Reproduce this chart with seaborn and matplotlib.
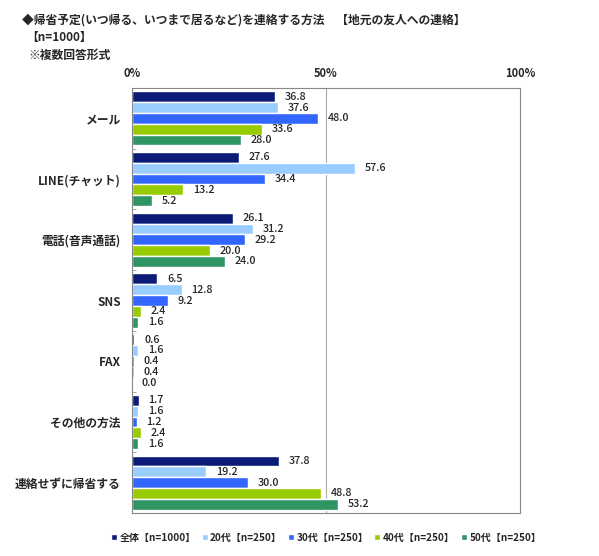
import matplotlib
matplotlib.use("Agg")
import matplotlib.pyplot as plt
import seaborn as sns
import pandas as pd
import numpy as np

categories = ["メール", "LINE(チャット)", "電話(音声通話)", "SNS", "FAX", "その他の方法", "連絡せずに帰省する"]
series = ["全体【n=1000】", "20代【n=250】", "30代【n=250】", "40代【n=250】", "50代【n=250】"]
v_all = [36.8, 27.6, 26.1, 6.5, 0.6, 1.7, 37.8]
v_20 = [37.6, 57.6, 31.2, 12.8, 1.6, 1.6, 19.2]
v_30 = [48.0, 34.4, 29.2, 9.2, 0.4, 1.2, 30.0]
v_40 = [33.6, 13.2, 20.0, 2.4, 0.4, 2.4, 48.8]
v_50 = [28.0, 5.2, 24.0, 1.6, 0.0, 1.6, 53.2]
colors = ["#0c1a78", "#99ccff", "#3366ff", "#99cc00", "#2e9462"]
xticks = [0, 50, 100]
xticklabels = ["0%", "50%", "100%"]

rows = []
for s, vals in zip(series, [v_all, v_20, v_30, v_40, v_50]):
    for c, v in zip(categories, vals):
        rows.append({"cat": c, "series": s, "val": v})
df = pd.DataFrame(rows)

sns.set_theme(style="white")
plt.rcParams['font.family'] = ['Noto Sans CJK JP', 'DejaVu Sans']

fig = plt.figure(figsize=(5.99, 5.56), dpi=100)
ax = fig.add_axes([132/599, 1-513/556, 388/599, 425/556])
sns.barplot(data=df, y="cat", x="val", hue="series", orient="h",
            palette=colors, order=categories, hue_order=series,
            width=0.89, ax=ax, legend=True, saturation=1)

ax.set_xlim(0, 100)
ax.set_ylim(len(categories) - 0.5, -0.5)
ax.set_xticks(xticks)
ax.set_xticklabels(xticklabels, fontsize=8)
ax.xaxis.tick_top()
ax.tick_params(axis='x', length=0, pad=6)
ax.tick_params(axis='y', which='major', length=0, pad=8)
ax.set_yticks(np.arange(0.5, len(categories) - 1, 1.0), minor=True)
ax.tick_params(axis='y', which='minor', direction='in', length=3, width=0.6, color='#999999', left=True)
for lab in ax.get_yticklabels():
    lab.set_fontsize(8.5)
    lab.set_fontweight('bold')
for lab in ax.get_xticklabels():
    lab.set_fontweight('bold')
ax.axvline(50, color="#aaaaaa", lw=0.8, zorder=0)
ax.set_xlabel("")
ax.set_ylabel("")
for sp in ax.spines.values():
    sp.set_color("#888888")
    sp.set_linewidth(0.8)

for cont in ax.containers:
    ax.bar_label(cont, fmt="%.1f", padding=7, fontsize=7.8, fontweight='medium')

ax.legend(loc="upper center", bbox_to_anchor=(0.5, -0.025), ncol=5, frameon=False,
          handlelength=0.6, handleheight=0.6, handletextpad=0.25,
          columnspacing=0.6, prop={'weight': 'bold', 'size': 7.2})

fig.text(22/599, 1-20/556, "◆帰省予定(いつ帰る、いつまで居るなど)を連絡する方法　【地元の友人への連絡】",
         fontsize=8.5, fontweight='bold', va='center', ha='left')
fig.text(26/599, 1-37/556, "【n=1000】", fontsize=8.5, fontweight='bold', va='center', ha='left')
fig.text(28/599, 1-55/556, "※複数回答形式", fontsize=8.5, fontweight='bold', va='center', ha='left')

fig.savefig("out.png", dpi=100)
